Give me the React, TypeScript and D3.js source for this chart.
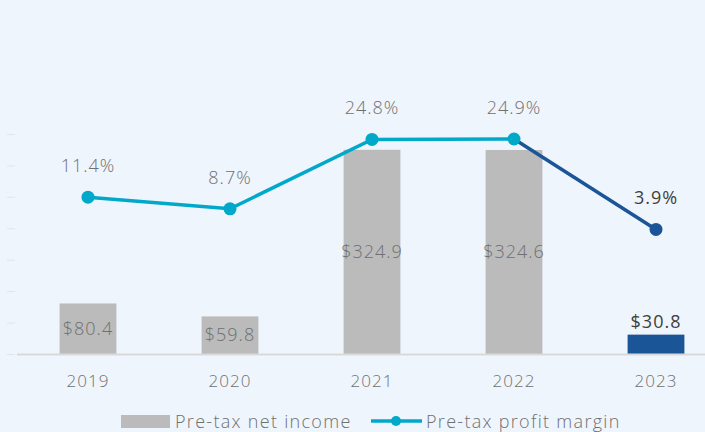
import { useEffect, useRef } from "react";
import * as d3 from "d3";

const years = ["2019", "2020", "2021", "2022", "2023"];
const netIncome = [80.4, 59.8, 324.9, 324.6, 30.8];
const profitMargin = [11.4, 8.7, 24.8, 24.9, 3.9];
const incomeLabels = ["$80.4", "$59.8", "$324.9", "$324.6", "$30.8"];
const marginLabels = ["11.4%", "8.7%", "24.8%", "24.9%", "3.9%"];
const barTicks = [0, 50, 100, 150, 200, 250, 300, 350];

const W = 705,
  H = 432;
const BG = "#eff5fc";
const GREY = "#bbbbbb";
const CYAN = "#00a8ca";
const NAVY = "#1a5597";
const FONT = "'Open Sans', sans-serif";

function draw(el: SVGSVGElement) {
  const svg = d3.select(el);
  svg.selectAll("*").remove();
  svg.attr("width", W).attr("height", H);

  svg.append("rect").attr("width", W).attr("height", H).attr("fill", BG);

  const baseY = 354;
  const x = d3.scaleBand().domain(years).range([17, 727]).paddingInner(0.6).paddingOuter(0.3);
  const yBar = d3.scaleLinear().domain([0, 350]).range([baseY, 134]);
  const yPct = d3.scaleLinear().domain([-25, 30]).range([baseY, 117]);
  const cx = (d: string) => (x(d) as number) + x.bandwidth() / 2;
  const last = years.length - 1;

  // faint left tick marks
  svg
    .append("g")
    .selectAll("line")
    .data(barTicks)
    .join("line")
    .attr("x1", 7)
    .attr("x2", 15)
    .attr("y1", (d) => yBar(d) + 0.5)
    .attr("y2", (d) => yBar(d) + 0.5)
    .attr("stroke", "#dfe5ec")
    .attr("stroke-width", 1);

  // bars
  svg
    .append("g")
    .selectAll("rect")
    .data(years)
    .join("rect")
    .attr("x", (d) => x(d) as number)
    .attr("width", x.bandwidth())
    .attr("y", (_, i) => yBar(netIncome[i]))
    .attr("height", (_, i) => baseY - yBar(netIncome[i]))
    .attr("fill", (_, i) => (i === last ? NAVY : GREY));

  // baseline
  svg
    .append("line")
    .attr("x1", 17)
    .attr("x2", W)
    .attr("y1", baseY + 0.5)
    .attr("y2", baseY + 0.5)
    .attr("stroke", "#d9d9d9")
    .attr("stroke-width", 2);

  // bar labels
  svg
    .append("g")
    .selectAll("text")
    .data(years)
    .join("text")
    .attr("x", cx)
    .attr("y", (_, i) => (i === last ? yBar(netIncome[i]) - 7 : (yBar(netIncome[i]) + baseY) / 2 + 6))
    .attr("text-anchor", "middle")
    .attr("font-family", FONT)
    .attr("font-size", 18)
    .attr("letter-spacing", 1)
    .attr("font-weight", (_, i) => (i === last ? 500 : 300))
    .attr("fill", (_, i) => (i === last ? "#3f3f3f" : "#707070"))
    .text((_, i) => incomeLabels[i]);

  // line
  const pts: [number, number][] = years.map((d, i) => [cx(d), yPct(profitMargin[i])]);
  const line = d3.line();
  svg
    .append("path")
    .attr("d", line(pts.slice(0, last))!)
    .attr("fill", "none")
    .attr("stroke", CYAN)
    .attr("stroke-width", 3.5);
  svg
    .append("path")
    .attr("d", line(pts.slice(last - 1))!)
    .attr("fill", "none")
    .attr("stroke", NAVY)
    .attr("stroke-width", 3.5);

  svg
    .append("g")
    .selectAll("circle")
    .data(pts)
    .join("circle")
    .attr("cx", (d) => d[0])
    .attr("cy", (d) => d[1])
    .attr("r", 6.5)
    .attr("fill", (_, i) => (i === last ? NAVY : CYAN));

  svg
    .append("g")
    .selectAll("text")
    .data(pts)
    .join("text")
    .attr("x", (d) => d[0])
    .attr("y", (d) => d[1] - 25)
    .attr("text-anchor", "middle")
    .attr("font-family", FONT)
    .attr("font-size", 18)
    .attr("letter-spacing", 1)
    .attr("font-weight", (_, i) => (i === last ? 500 : 300))
    .attr("fill", (_, i) => (i === last ? "#3f3f3f" : "#707070"))
    .text((_, i) => marginLabels[i]);

  // x axis labels
  svg
    .append("g")
    .selectAll("text")
    .data(years)
    .join("text")
    .attr("x", cx)
    .attr("y", 387)
    .attr("text-anchor", "middle")
    .attr("font-family", FONT)
    .attr("font-size", 17)
    .attr("letter-spacing", 1)
    .attr("font-weight", 300)
    .attr("fill", "#707070")
    .text((d) => d);

  // legend
  const lg = svg
    .append("g")
    .attr("font-family", FONT)
    .attr("font-size", 18)
    .attr("letter-spacing", 1.3)
    .attr("font-weight", 300)
    .attr("fill", "#707070");
  lg.append("rect").attr("x", 121).attr("y", 415).attr("width", 49).attr("height", 13).attr("fill", GREY);
  lg.append("text").attr("x", 175).attr("y", 428).text("Pre-tax net income");
  lg.append("line").attr("x1", 371).attr("x2", 422).attr("y1", 421).attr("y2", 421).attr("stroke", CYAN).attr("stroke-width", 3.5);
  lg.append("circle").attr("cx", 396).attr("cy", 421).attr("r", 5).attr("fill", CYAN);
  lg.append("text").attr("x", 426).attr("y", 428).text("Pre-tax profit margin");
}

export default function App() {
  const ref = useRef<SVGSVGElement>(null);
  useEffect(() => {
    if (ref.current) draw(ref.current);
  }, []);
  return (
    <div style={{ position: "absolute", left: 0, top: 0, width: W, height: H, background: BG }}>
      <svg ref={ref} style={{ display: "block" }} />
    </div>
  );
}
